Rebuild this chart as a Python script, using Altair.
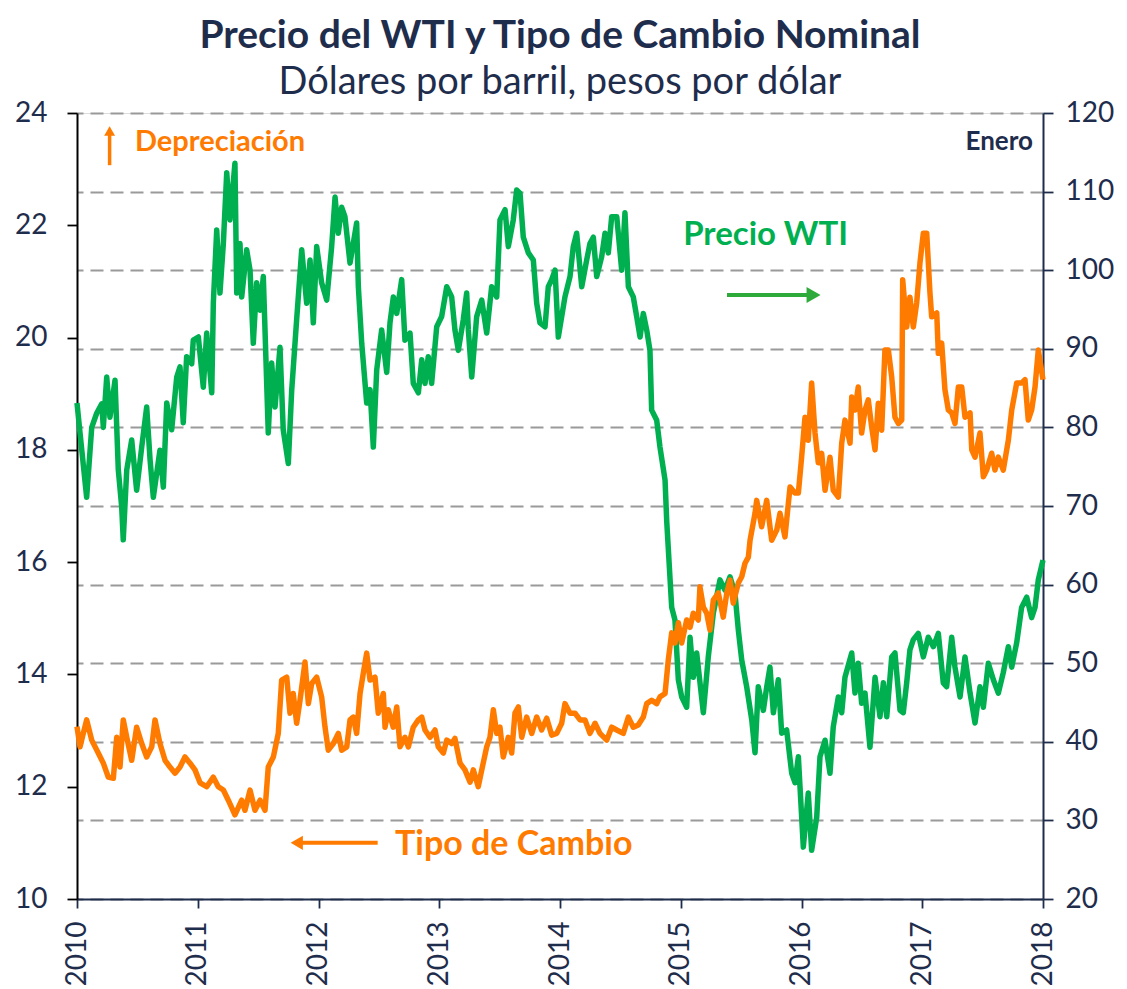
import altair as alt
import pandas as pd

# ---------------- data ----------------
wti_year = [2010.000, 2010.025, 2010.080, 2010.122, 2010.163, 2010.205, 2010.218, 2010.246, 2010.273, 2010.315,
            2010.342, 2010.370, 2010.383, 2010.412, 2010.453, 2010.494, 2010.536, 2010.577, 2010.605, 2010.632,
            2010.687, 2010.715, 2010.743, 2010.784, 2010.826, 2010.853, 2010.880, 2010.908, 2010.950, 2010.963,
            2011.005, 2011.046, 2011.074, 2011.116, 2011.129, 2011.157, 2011.184, 2011.212, 2011.240, 2011.267,
            2011.308, 2011.323, 2011.350, 2011.364, 2011.405, 2011.433, 2011.460, 2011.488, 2011.516, 2011.543,
            2011.584, 2011.612, 2011.640, 2011.681, 2011.708, 2011.750, 2011.778, 2011.819, 2011.861, 2011.902,
            2011.930, 2011.957, 2011.985, 2012.026, 2012.068, 2012.109, 2012.137, 2012.164, 2012.192, 2012.219,
            2012.261, 2012.288, 2012.316, 2012.330, 2012.358, 2012.399, 2012.427, 2012.454, 2012.482, 2012.523,
            2012.565, 2012.592, 2012.620, 2012.648, 2012.689, 2012.716, 2012.758, 2012.785, 2012.827, 2012.855,
            2012.882, 2012.909, 2012.937, 2012.979, 2013.020, 2013.062, 2013.103, 2013.130, 2013.158, 2013.199,
            2013.227, 2013.241, 2013.269, 2013.310, 2013.352, 2013.393, 2013.434, 2013.476, 2013.503, 2013.545,
            2013.572, 2013.613, 2013.641, 2013.669, 2013.696, 2013.738, 2013.779, 2013.807, 2013.834, 2013.876,
            2013.903, 2013.931, 2013.959, 2013.986, 2014.041, 2014.083, 2014.110, 2014.138, 2014.180, 2014.221,
            2014.248, 2014.276, 2014.304, 2014.345, 2014.373, 2014.400, 2014.428, 2014.470, 2014.511, 2014.538,
            2014.566, 2014.607, 2014.635, 2014.663, 2014.690, 2014.718, 2014.745, 2014.759, 2014.801, 2014.828,
            2014.870, 2014.884, 2014.925, 2014.952, 2014.980, 2015.008, 2015.049, 2015.077, 2015.104, 2015.132,
            2015.187, 2015.228, 2015.270, 2015.325, 2015.366, 2015.408, 2015.449, 2015.477, 2015.505, 2015.546,
            2015.588, 2015.615, 2015.642, 2015.684, 2015.712, 2015.739, 2015.767, 2015.808, 2015.836, 2015.877,
            2015.919, 2015.946, 2015.974, 2016.015, 2016.056, 2016.084, 2016.126, 2016.153, 2016.195, 2016.236,
            2016.263, 2016.305, 2016.333, 2016.360, 2016.416, 2016.443, 2016.470, 2016.498, 2016.526, 2016.567,
            2016.609, 2016.650, 2016.678, 2016.706, 2016.747, 2016.774, 2016.816, 2016.843, 2016.871, 2016.898,
            2016.926, 2016.967, 2017.009, 2017.050, 2017.092, 2017.133, 2017.174, 2017.202, 2017.244, 2017.271,
            2017.313, 2017.354, 2017.396, 2017.437, 2017.478, 2017.506, 2017.547, 2017.589, 2017.630, 2017.671,
            2017.713, 2017.741, 2017.782, 2017.823, 2017.865, 2017.906, 2017.934, 2017.961, 2018.000]
wti_value = [83.1, 79.3, 71.1, 80.0, 81.8, 83.0, 80.0, 86.4, 81.3, 86.0,
             74.6, 69.9, 65.7, 74.6, 78.4, 72.0, 77.5, 82.6, 75.9, 71.1,
             77.1, 72.4, 83.1, 79.7, 86.4, 87.7, 80.6, 89.0, 88.1, 91.1,
             91.5, 85.1, 92.0, 84.4, 95.8, 105.1, 97.1, 103.4, 112.4, 106.4,
             113.6, 97.1, 103.4, 96.6, 102.6, 100.0, 90.7, 98.4, 94.9, 99.2,
             79.3, 88.2, 82.6, 90.2, 79.7, 75.4, 84.7, 93.7, 102.6, 95.8,
             101.3, 93.3, 103.0, 98.4, 96.2, 103.0, 109.3, 104.7, 108.0, 106.8,
             100.9, 103.4, 106.0, 97.9, 90.7, 83.1, 84.8, 77.5, 87.3, 92.4,
             87.0, 93.3, 96.6, 94.5, 98.8, 91.1, 92.0, 85.6, 84.4, 88.6,
             85.6, 89.0, 85.6, 92.8, 94.1, 97.9, 96.6, 92.4, 89.8, 93.7,
             97.1, 92.4, 86.4, 94.1, 96.2, 92.0, 97.9, 96.6, 106.4, 107.7,
             103.0, 106.4, 110.2, 109.8, 104.2, 102.2, 101.3, 95.8, 93.3, 92.8,
             97.9, 98.8, 100.0, 91.5, 96.6, 99.2, 103.0, 104.7, 97.9, 101.3,
             103.4, 104.2, 99.2, 101.7, 104.7, 102.2, 106.8, 106.8, 100.0, 107.3,
             97.9, 96.6, 94.1, 91.5, 94.5, 92.4, 89.8, 82.2, 80.9, 77.5,
             73.3, 68.0, 57.1, 55.5, 47.9, 45.7, 44.4, 53.3, 48.2, 51.3,
             43.7, 50.8, 56.4, 60.6, 59.3, 61.0, 58.9, 54.2, 50.4, 47.0,
             42.8, 38.6, 47.0, 44.0, 47.0, 49.5, 43.7, 47.9, 41.1, 41.5,
             36.0, 34.8, 38.1, 26.6, 33.5, 26.2, 30.4, 38.1, 40.2, 36.0,
             41.9, 45.7, 43.7, 48.2, 51.3, 46.2, 50.0, 44.9, 46.2, 39.3,
             48.2, 43.2, 47.5, 43.2, 50.8, 51.3, 44.0, 43.7, 47.5, 51.7,
             53.0, 53.8, 50.8, 53.3, 52.1, 53.8, 47.5, 47.0, 53.3, 49.5,
             45.7, 50.8, 46.2, 42.4, 47.0, 44.4, 50.0, 47.9, 46.2, 48.8,
             52.1, 49.5, 52.6, 57.1, 58.4, 55.8, 57.1, 60.6, 63.1]

fx_year = [2010.000, 2010.025, 2010.052, 2010.080, 2010.122, 2010.176, 2010.218, 2010.259, 2010.301, 2010.329,
           2010.356, 2010.383, 2010.412, 2010.453, 2010.494, 2010.536, 2010.577, 2010.619, 2010.646, 2010.687,
           2010.729, 2010.770, 2010.812, 2010.853, 2010.894, 2010.936, 2010.977, 2011.019, 2011.074, 2011.129,
           2011.170, 2011.212, 2011.253, 2011.308, 2011.364, 2011.391, 2011.433, 2011.474, 2011.516, 2011.557,
           2011.584, 2011.626, 2011.667, 2011.695, 2011.737, 2011.764, 2011.791, 2011.819, 2011.847, 2011.888,
           2011.916, 2011.944, 2011.985, 2012.026, 2012.054, 2012.081, 2012.123, 2012.164, 2012.192, 2012.234,
           2012.261, 2012.288, 2012.316, 2012.344, 2012.371, 2012.399, 2012.427, 2012.468, 2012.495, 2012.537,
           2012.551, 2012.578, 2012.619, 2012.648, 2012.675, 2012.716, 2012.744, 2012.785, 2012.827, 2012.855,
           2012.882, 2012.923, 2012.965, 2012.992, 2013.034, 2013.062, 2013.103, 2013.130, 2013.172, 2013.213,
           2013.255, 2013.282, 2013.323, 2013.352, 2013.393, 2013.420, 2013.448, 2013.476, 2013.503, 2013.530,
           2013.572, 2013.600, 2013.627, 2013.655, 2013.683, 2013.724, 2013.766, 2013.807, 2013.848, 2013.890,
           2013.931, 2013.973, 2014.014, 2014.041, 2014.083, 2014.124, 2014.166, 2014.207, 2014.248, 2014.290,
           2014.331, 2014.387, 2014.428, 2014.470, 2014.524, 2014.566, 2014.607, 2014.648, 2014.690, 2014.718,
           2014.759, 2014.801, 2014.828, 2014.870, 2014.897, 2014.925, 2014.952, 2014.980, 2015.008, 2015.049,
           2015.077, 2015.104, 2015.145, 2015.159, 2015.187, 2015.215, 2015.242, 2015.270, 2015.311, 2015.352,
           2015.381, 2015.408, 2015.435, 2015.477, 2015.505, 2015.532, 2015.560, 2015.574, 2015.615, 2015.629,
           2015.670, 2015.712, 2015.753, 2015.795, 2015.822, 2015.863, 2015.905, 2015.946, 2015.974, 2016.001,
           2016.029, 2016.056, 2016.084, 2016.112, 2016.139, 2016.167, 2016.195, 2016.236, 2016.263, 2016.305,
           2016.333, 2016.360, 2016.402, 2016.416, 2016.443, 2016.470, 2016.498, 2016.526, 2016.553, 2016.581,
           2016.609, 2016.636, 2016.664, 2016.691, 2016.719, 2016.747, 2016.774, 2016.802, 2016.830, 2016.838,
           2016.871, 2016.898, 2016.926, 2016.954, 2016.981, 2017.009, 2017.037, 2017.064, 2017.078, 2017.120,
           2017.133, 2017.161, 2017.188, 2017.216, 2017.244, 2017.271, 2017.299, 2017.327, 2017.354, 2017.396,
           2017.410, 2017.437, 2017.478, 2017.506, 2017.534, 2017.575, 2017.602, 2017.630, 2017.671, 2017.713,
           2017.741, 2017.782, 2017.823, 2017.851, 2017.878, 2017.906, 2017.934, 2017.961, 2018.000]
fx_value = [13.07, 12.71, 12.95, 13.19, 12.83, 12.60, 12.42, 12.17, 12.15, 12.88,
            12.35, 13.19, 12.88, 12.47, 13.06, 12.77, 12.53, 12.71, 13.19, 12.77,
            12.47, 12.35, 12.24, 12.35, 12.53, 12.42, 12.30, 12.07, 12.00, 12.17,
            12.00, 11.94, 11.76, 11.50, 11.76, 11.58, 11.94, 11.58, 11.76, 11.58,
            12.35, 12.53, 12.95, 13.90, 13.95, 13.31, 13.66, 13.13, 13.54, 14.22,
            13.48, 13.84, 13.95, 13.60, 13.06, 12.65, 12.77, 12.95, 12.65, 12.71,
            13.19, 13.24, 12.95, 13.66, 14.02, 14.38, 13.90, 13.95, 13.31, 13.66,
            13.06, 13.37, 13.06, 13.42, 12.71, 12.88, 12.71, 13.06, 13.19, 13.24,
            13.01, 12.88, 13.01, 12.71, 12.60, 12.83, 12.77, 12.86, 12.42, 12.30,
            12.08, 12.30, 12.00, 12.30, 12.71, 12.88, 13.37, 12.95, 13.06, 12.53,
            12.88, 12.60, 13.31, 13.42, 12.88, 13.24, 12.95, 13.24, 13.01, 13.22,
            12.92, 12.95, 13.13, 13.48, 13.31, 13.31, 13.19, 13.19, 12.95, 13.13,
            12.95, 12.83, 13.06, 13.01, 12.95, 13.24, 13.06, 13.10, 13.24, 13.48,
            13.54, 13.48, 13.60, 13.66, 14.26, 14.74, 14.56, 14.92, 14.56, 14.97,
            14.84, 15.09, 14.97, 15.56, 15.20, 15.09, 14.79, 15.33, 15.45, 15.02,
            15.45, 15.68, 15.27, 15.63, 15.74, 15.98, 16.09, 16.39, 16.87, 17.10,
            16.63, 17.10, 16.39, 16.57, 16.87, 16.45, 17.34, 17.23, 17.23, 17.87,
            18.58, 18.17, 19.19, 18.30, 17.77, 17.94, 17.28, 17.87, 17.28, 17.16,
            18.12, 18.53, 18.12, 18.94, 18.71, 19.12, 18.30, 18.71, 18.89, 18.41,
            18.00, 18.83, 18.35, 19.78, 19.78, 19.30, 18.58, 18.47, 18.53, 21.03,
            20.19, 20.72, 20.19, 20.62, 21.33, 21.86, 21.86, 20.79, 20.37, 20.44,
            19.72, 19.90, 19.07, 18.71, 18.66, 18.47, 19.12, 19.12, 18.58, 18.66,
            18.00, 17.87, 18.30, 17.52, 17.64, 17.94, 17.64, 17.87, 17.64, 18.17,
            18.71, 19.19, 19.19, 19.25, 18.53, 18.71, 19.12, 19.78, 19.25]

year_ticks = [2010, 2011, 2012, 2013, 2014, 2015, 2016, 2017, 2018]
fx_ticks = [10, 12, 14, 16, 18, 20, 22, 24]
wti_ticks = [20, 30, 40, 50, 60, 70, 80, 90, 100, 110, 120]

# annotation labels and anchor points (in data units)
fx_labels = ["Depreciación", "Tipo de Cambio"]
fx_label_year = [2010.48, 2012.634]
fx_label_value = [23.48, 10.96]
enero_label = ["Enero"]
enero_year = [2017.917]
enero_value = [23.48]
wti_label = ["Precio WTI"]
wti_label_year = [2015.02]
wti_label_value = [104.5]

NAVY = "#1f2d4d"
GREEN = "#00b050"
GREEN_ARROW = "#2eaa3a"
ORANGE = "#ff7b00"
FONT = "Lato"

wti_df = pd.DataFrame({"year": wti_year, "wti": wti_value})
fx_df = pd.DataFrame({"year": fx_year, "fx": fx_value})

x_scale = alt.Scale(domain=[2010, 2018], nice=False, zero=False)
x_axis = alt.Axis(values=year_ticks, format="d", labelAngle=270, labelFontSize=28, labelColor=NAVY,
                  labelFont=FONT, domainColor=NAVY, domainWidth=2, tickColor=NAVY, tickSize=9,
                  tickWidth=1.8, grid=False, title=None, labelPadding=13)

fx_scale = alt.Scale(domain=[10, 24], nice=False, zero=False)
wti_scale = alt.Scale(domain=[20, 120], nice=False, zero=False)

fx_axis = alt.Axis(orient="left", values=fx_ticks, labelFontSize=28, labelColor=NAVY, labelFont=FONT,
                   domainColor="#000000", domainWidth=2, tickColor="#000000", tickSize=10, tickWidth=1.8,
                   grid=False, title=None, labelPadding=20)
wti_axis = alt.Axis(orient="right", values=wti_ticks, labelFontSize=28, labelColor=NAVY, labelFont=FONT,
                    domainColor=NAVY, domainWidth=2, tickColor=NAVY, tickSize=10, tickWidth=1.8,
                    grid=True, gridColor="#9a9a9a", gridDash=[13, 7], gridWidth=2, title=None,
                    labelPadding=12)


def xq(field):
    return alt.X(f"{field}:Q", scale=x_scale, axis=x_axis, title=None)


def yw(field):
    return alt.Y(f"{field}:Q", scale=wti_scale, axis=wti_axis, title=None)


def yf(field):
    return alt.Y(f"{field}:Q", scale=fx_scale, axis=fx_axis, title=None)


# --- WTI layer ---
wti_line = alt.Chart(wti_df).mark_line(color=GREEN, strokeWidth=5.5, strokeJoin="round").encode(
    x=xq("year"), y=yw("wti"))
wti_text = alt.Chart(pd.DataFrame({"label": wti_label, "year": wti_label_year, "wti": wti_label_value})).mark_text(
    align="left", baseline="middle", fontSize=33, fontWeight="bold", font=FONT, color=GREEN
).encode(x=xq("year"), y=yw("wti"), text="label:N")

wti_arrow_df = pd.DataFrame({"x0": [2015.383], "x1": [2016.06], "tip": [2016.10], "wti": [96.85]})
wti_arrow_shaft = alt.Chart(wti_arrow_df).mark_rule(color=GREEN_ARROW, strokeWidth=4).encode(
    x=xq("x0"), x2="x1:Q", y=yw("wti"))
wti_arrow_head = alt.Chart(wti_arrow_df).mark_point(shape="triangle-right", filled=True, size=260,
                                                    color=GREEN_ARROW, opacity=1).encode(
    x=xq("tip"), y=yw("wti"))

wti_layer = alt.layer(wti_line, wti_text, wti_arrow_shaft, wti_arrow_head)

# --- FX layer ---
fx_line = alt.Chart(fx_df).mark_line(color=ORANGE, strokeWidth=5.5, strokeJoin="round").encode(
    x=xq("year"), y=yf("fx"))
fx_text_df = pd.DataFrame({"label": fx_labels, "year": fx_label_year, "fx": fx_label_value})
fx_text_small = alt.Chart(fx_text_df.iloc[[0]]).mark_text(
    align="left", baseline="middle", fontSize=29, fontWeight="bold", font=FONT, color=ORANGE
).encode(x=xq("year"), y=yf("fx"), text="label:N")
fx_text_big = alt.Chart(fx_text_df.iloc[[1]]).mark_text(
    align="left", baseline="middle", fontSize=34, fontWeight="bold", font=FONT, color=ORANGE
).encode(x=xq("year"), y=yf("fx"), text="label:N")
enero_text = alt.Chart(pd.DataFrame({"label": enero_label, "year": enero_year, "fx": enero_value})).mark_text(
    align="right", baseline="middle", fontSize=26, fontWeight="bold", font=FONT, color=NAVY
).encode(x=xq("year"), y=yf("fx"), text="label:N")

up_arrow_df = pd.DataFrame({"year": [2010.27], "y0": [23.07], "y1": [23.62], "tip": [23.68]})
up_shaft = alt.Chart(up_arrow_df).mark_rule(color=ORANGE, strokeWidth=3.5).encode(
    x=xq("year"), y=yf("y0"), y2="y1:Q")
up_head = alt.Chart(up_arrow_df).mark_point(shape="triangle-up", filled=True, size=120, color=ORANGE,
                                            opacity=1).encode(x=xq("year"), y=yf("tip"))

left_arrow_df = pd.DataFrame({"x0": [2011.84], "x1": [2012.49], "tip": [2011.82], "fx": [11.0]})
left_shaft = alt.Chart(left_arrow_df).mark_rule(color=ORANGE, strokeWidth=4).encode(
    x=xq("x0"), x2="x1:Q", y=yf("fx"))
left_head = alt.Chart(left_arrow_df).mark_point(shape="triangle-left", filled=True, size=200, color=ORANGE,
                                                opacity=1).encode(x=xq("tip"), y=yf("fx"))

fx_layer = alt.layer(fx_line, fx_text_small, fx_text_big, enero_text, up_shaft, up_head, left_shaft, left_head)

chart = alt.layer(wti_layer, fx_layer).resolve_scale(y="independent").properties(
    width=966,
    height=786,
    padding={"left": 69, "top": 105, "right": 75, "bottom": 86},
    autosize=alt.AutoSizeParams(type="none"),
    title=alt.TitleParams(
        text="Precio del WTI y Tipo de Cambio Nominal",
        subtitle="Dólares por barril, pesos por dólar",
        font=FONT, subtitleFont=FONT, fontSize=39, subtitleFontSize=38,
        fontWeight="bold", subtitleFontWeight="normal",
        color=NAVY, subtitleColor=NAVY, anchor="middle", offset=-3, subtitlePadding=8,
    ),
).configure_view(strokeWidth=0).configure(background="white")

chart.save("out.html", embed_options={"renderer": "svg", "actions": False})
